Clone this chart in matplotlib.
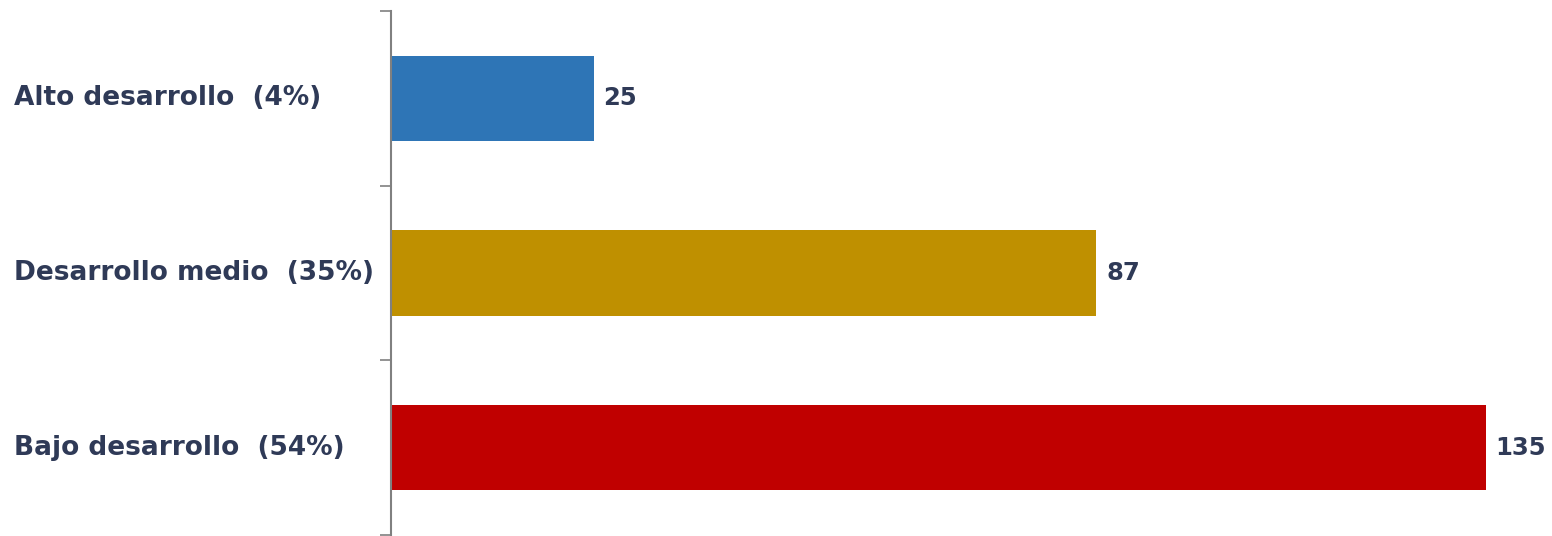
import matplotlib.pyplot as plt
import matplotlib.transforms as mtransforms

categories = ["Alto desarrollo  (4%)", "Desarrollo medio  (35%)", "Bajo desarrollo  (54%)"]
values = [25, 87, 135]
colors = ['#2E75B6', '#BF9000', '#C00000']

text_color = '#2F3A57'
plt.rcParams['font.family'] = ['DejaVu Sans']

fig = plt.figure(figsize=(15.52, 5.36), dpi=100)
ax = fig.add_axes([391 / 1552, 1 / 536, 1 - 391 / 1552, 524 / 536])

ypos = list(range(len(categories)))
ax.barh(ypos, values, height=0.49, color=colors)

ax.set_xlim(0, 143.2)
ax.set_ylim(2.5, -0.5)

# value labels next to bars
for y, v in zip(ypos, values):
    ax.annotate(str(v), xy=(v, y), xytext=(7, 0), textcoords='offset points',
                va='center', ha='left', fontsize=17.5, fontweight='bold', color=text_color)

# category labels, left aligned at the figure edge
trans = mtransforms.blended_transform_factory(fig.transFigure, ax.transData)
for y, c in zip(ypos, categories):
    ax.text(14 / 1552, y, c, transform=trans, va='center', ha='left',
            fontsize=19, fontweight='bold', color=text_color, clip_on=False)

# ticks at category boundaries
ax.set_yticks([-0.5, 0.5, 1.5, 2.5])
ax.set_yticklabels([])
ax.tick_params(axis='y', direction='out', length=8, width=1.2, color='#808080')
ax.set_xticks([])

for side in ['top', 'right', 'bottom']:
    ax.spines[side].set_visible(False)
ax.spines['left'].set_color('#808080')
ax.spines['left'].set_linewidth(1.5)

fig.savefig('out.png', dpi=100)
